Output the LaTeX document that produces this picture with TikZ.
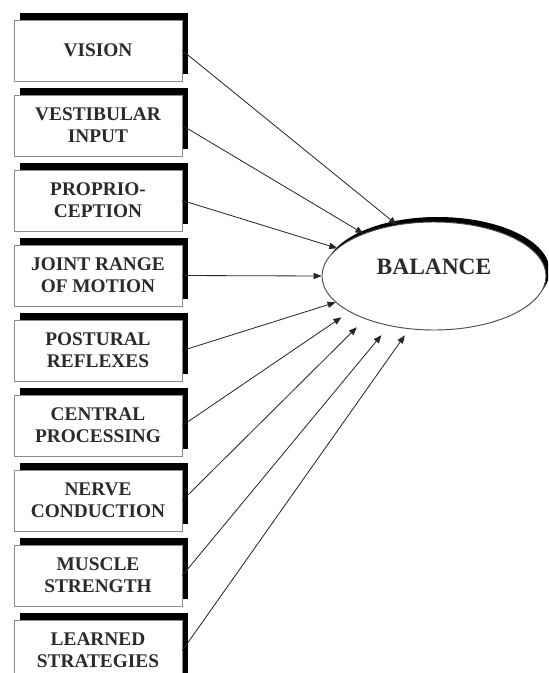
\documentclass[tikz,border=0pt]{standalone}
\usepackage{fontspec}
\setmainfont{Liberation Serif}
\usetikzlibrary{
  arrows.meta,
  shapes.geometric,
  shadows
}
\definecolor{boxline}{HTML}{8A8A8A}
\definecolor{txtdark}{HTML}{2B2B2B}

\begin{document}
\begin{tikzpicture}[
  x=0.03cm, y=-0.03cm,
  factor/.style={
    rectangle, draw=boxline, line width=0.6pt, fill=white,
    minimum width=5.04cm, minimum height=1.83cm, inner sep=0pt,
    align=center, font=\fontsize{16.5}{18.5}\selectfont\bfseries, text=txtdark,
    general shadow={fill=black, shadow xshift=0.19cm, shadow yshift=0.21cm}
  },
  outcome/.style={
    ellipse, draw=black!70, line width=0.8pt, fill=white,
    minimum width=6.72cm, minimum height=3.24cm, inner sep=0pt,
    font=\fontsize{20}{22}\selectfont\bfseries, text=txtdark, text depth=0.57cm,
    general shadow={fill=black, shadow xshift=0.11cm, shadow yshift=0.15cm}
  },
  link/.style={line width=0.7pt, draw=black!85, -{Triangle[length=2.4mm, width=1.9mm]}}
]
\clip (0,0) rectangle (548,673);

% FACTORS
\node[factor] (vision) at (98, 50.5) {VISION};
\node[factor] (vestib) at (98, 125.5) {VESTIBULAR\\INPUT};
\node[factor] (proprio) at (98, 200.5) {PROPRIO-\\CEPTION};
\node[factor] (joint) at (98, 275.5) {JOINT RANGE\\OF MOTION};
\node[factor] (postural) at (98, 350.5) {POSTURAL\\REFLEXES};
\node[factor] (central) at (98, 425.5) {CENTRAL\\PROCESSING};
\node[factor] (nerve) at (98, 500.5) {NERVE\\CONDUCTION};
\node[factor] (muscle) at (98, 575.5) {MUSCLE\\STRENGTH};
\node[factor] (learned) at (98, 650.5) {LEARNED\\STRATEGIES};

% OUTCOME
\node[outcome] (balance) at (434, 276) {BALANCE};

% Links into balance
\draw[link] (vision.east) -- (balance.126);
\draw[link] (vestib.east) -- (balance.149.5);
\draw[link] (proprio.east) -- (balance.164);
\draw[link] (joint.east) -- (balance.180);
\draw[link] (postural.east) -- (balance.195);
\draw[link, shorten >=2.9mm] (central.east) -- (balance.203);
\draw[link, shorten >=3.5mm] (nerve.east) -- (balance.212);
\draw[link, shorten >=3.6mm] (muscle.east) -- (balance.228);
\draw[link, shorten >=2.3mm] (learned.east) -- (balance.245);

\end{tikzpicture}
\end{document}
